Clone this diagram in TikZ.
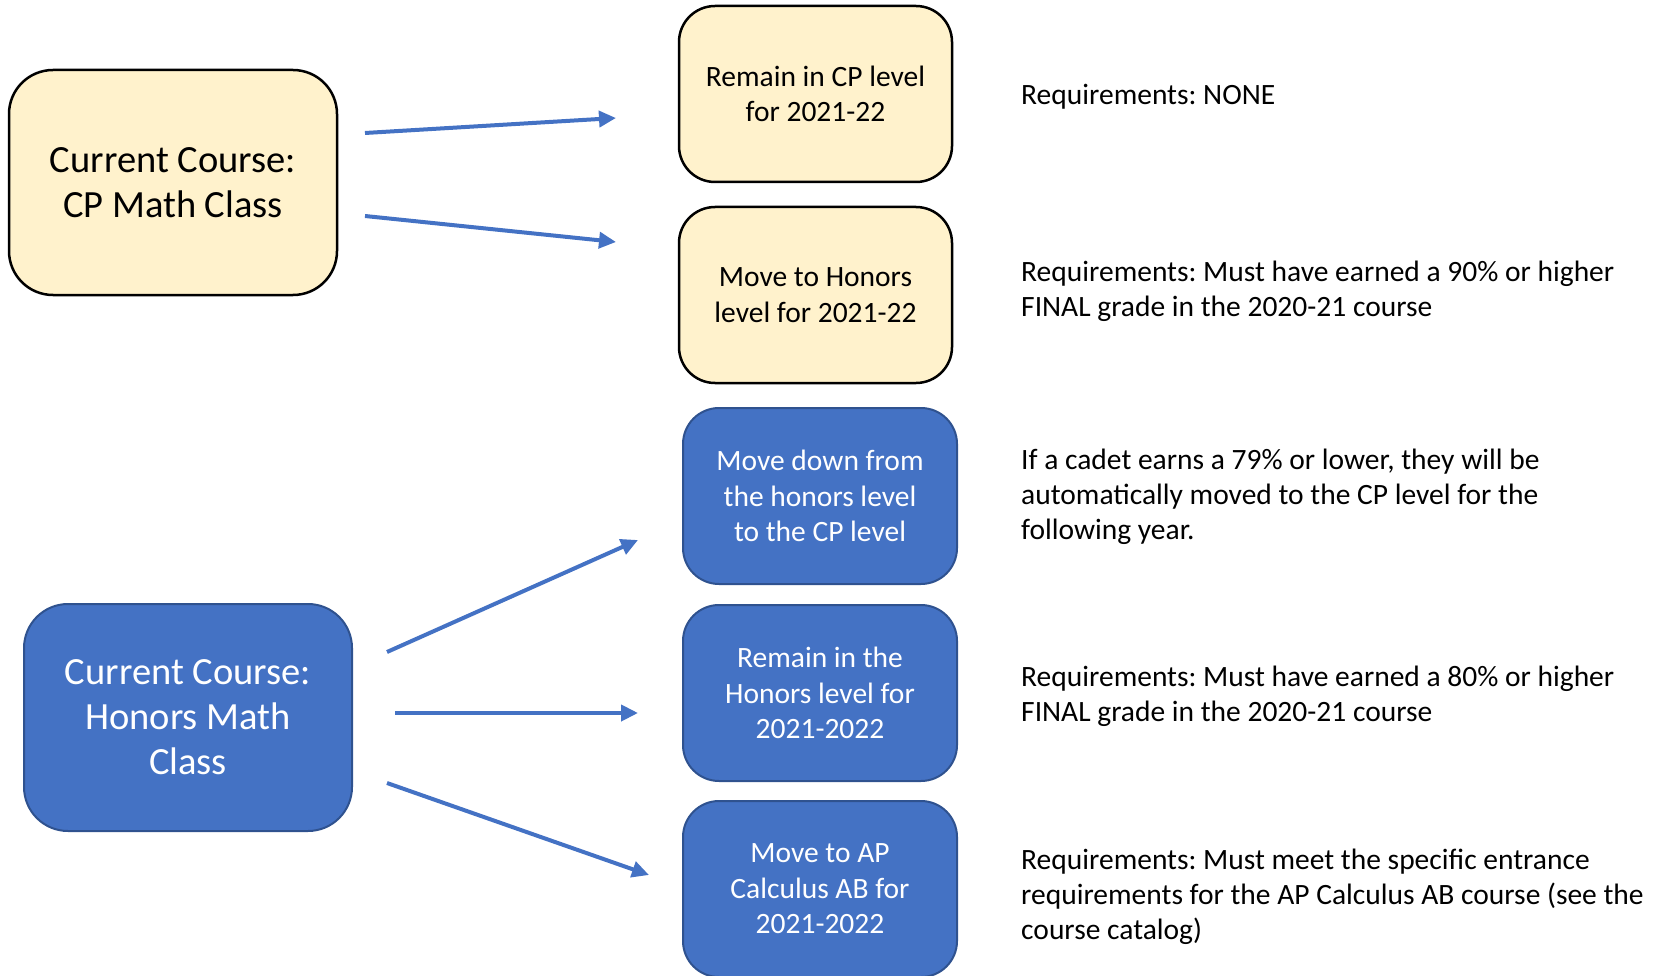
\documentclass[tikz,border=0pt]{standalone}
\usepackage{fontspec}
\setmainfont{Carlito}
\usetikzlibrary{arrows.meta}
\definecolor{ylw}{HTML}{FFF2CC}
\definecolor{blu}{HTML}{4472C4}
\definecolor{bluedge}{HTML}{2F528F}
\frenchspacing
\tikzset{
  ybox/.style={draw=black, line width=2.5pt, fill=ylw, rounded corners=36pt, align=center, inner sep=0pt},
  bbox/.style={draw=bluedge, line width=2pt, fill=blu, text=white, rounded corners=36pt, align=center, inner sep=0pt},
  small/.style={font=\fontsize{29.5}{35.5}\selectfont},
  big/.style={font=\fontsize{38.5}{45}\selectfont},
  note/.style={anchor=west, align=left, inner sep=0pt, font=\fontsize{29.5}{35}\selectfont},
  arr/.style={draw=blu, line width=4pt, -{Triangle[length=17pt,width=16pt]}}
}
\begin{document}
\begin{tikzpicture}[x=1pt,y=-1pt]
\useasboundingbox (0,0) rectangle (1677,976);
% left boxes
\node[ybox, big, minimum width=328pt, minimum height=225pt, rounded corners=44pt] (cp) at (173,182.5) {Current Course:\\CP Math Class};
\node[bbox, big, minimum width=328pt, minimum height=227pt, rounded corners=44pt] (hon) at (188,717.5) {Current Course:\\Honors Math\\Class};
% middle boxes
\node[ybox, small, minimum width=273pt, minimum height=176pt] (r1) at (815.5,94) {Remain in CP level\\for 2021-22};
\node[ybox, small, minimum width=273pt, minimum height=176pt] (r2) at (815.5,295) {Move to Honors\\level for 2021-22};
\node[bbox, small, minimum width=274pt, minimum height=176pt] (b1) at (820,496) {Move down from\\the honors level\\to the CP level};
\node[bbox, small, minimum width=274pt, minimum height=176pt] (b2) at (820,693) {Remain in the\\Honors level for\\2021-2022};
\node[bbox, small, minimum width=274pt, minimum height=176pt] (b3) at (820,889) {Move to AP\\Calculus AB for\\2021-2022};
% notes
\node[note] (n1) at (1021,97) {Requirements: NONE};
\node[note] (n2) at (1021,291) {Requirements: Must have earned a 90\% or higher\\FINAL grade in the 2020-21 course};
\node[note] (n3) at (1021,497) {If a cadet earns a 79\% or lower, they will be\\automatically moved to the CP level for the\\following year.};
\node[note] (n4) at (1021,696) {Requirements: Must have earned a 80\% or higher\\FINAL grade in the 2020-21 course};
\node[note] (n5) at (1021,897) {Requirements: Must meet the specific entrance\\requirements for the AP Calculus AB course (see the\\course catalog)};
% arrow end points
\coordinate (a1s) at (365,133);
\coordinate (a1e) at (616,118);
\coordinate (a2s) at (365,216);
\coordinate (a2e) at (616,242);
\coordinate (h1s) at (387,652);
\coordinate (h1e) at (638,540);
\coordinate (h2s) at (395,713);
\coordinate (h2e) at (638,713);
\coordinate (h3s) at (387,783);
\coordinate (h3e) at (649,875);
\draw[arr] (a1s) -- (a1e);
\draw[arr] (a2s) -- (a2e);
\draw[arr] (h1s) -- (h1e);
\draw[arr] (h2s) -- (h2e);
\draw[arr] (h3s) -- (h3e);
\end{tikzpicture}
\end{document}
